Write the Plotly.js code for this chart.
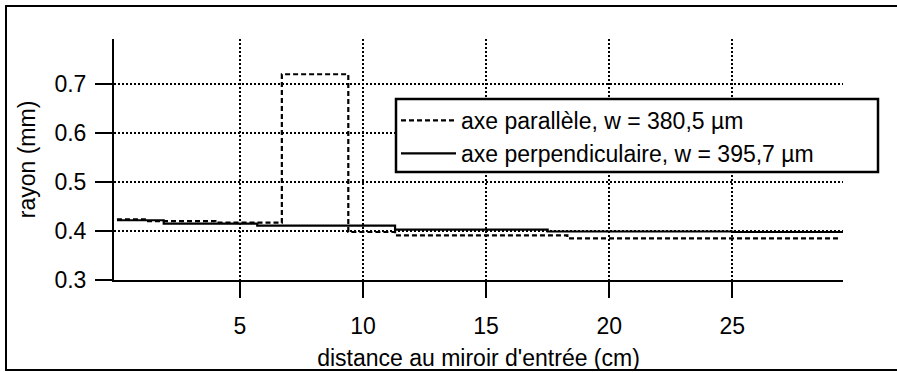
<!DOCTYPE html>
<html>
<head>
<meta charset="utf-8">
<script src="https://cdn.plot.ly/plotly-3.0.1.min.js"></script>
<style>
  html, body { margin: 0; padding: 0; background: #fff; }
  #chart { width: 897px; height: 372px; }
</style>
</head>
<body>
<div id="chart"></div>
<script>
// Step profile of beam radius vs distance from entrance mirror
const parX = [0, 1.2, 4.0, 6.7, 9.4, 11.3, 18.3, 29.3];
const parY = [0.424, 0.420, 0.417, 0.72, 0.398, 0.391, 0.385, 0.385];
const perpX = [0, 1.9, 5.7, 11.3, 17.5, 25, 29.6];
const perpY = [0.422, 0.415, 0.411, 0.403, 0.399, 0.398, 0.398];
const xTicks = [5, 10, 15, 20, 25];
const yTicks = [0.3, 0.4, 0.5, 0.6, 0.7];
const parName = 'axe parallèle, w = 380,5 µm';
const perpName = 'axe perpendiculaire, w = 395,7 µm';
const xTitle = "distance au miroir d'entrée (cm)";
const yTitle = 'rayon (mm)';

const FONT = 'Liberation Sans, Arial, Helvetica, sans-serif';
const FS = 23;

const traces = [
  {
    x: parX, y: parY, name: parName, type: 'scatter', mode: 'lines',
    line: { shape: 'hv', color: '#000', width: 2.2, dash: '5px,3px' }
  },
  {
    x: perpX, y: perpY, name: perpName, type: 'scatter', mode: 'lines',
    line: { shape: 'hv', color: '#000', width: 2.2 }
  }
];

const L = 114, R = 54, T = 39, B = 92, W = 897, H = 372;
const pw = W - L - R, ph = H - T - B;
const px = v => (v - L) / pw;
const py = v => (H - B - v) / ph;

const layout = {
  width: W, height: H,
  margin: { l: L, r: R, t: T, b: B, pad: 0 },
  paper_bgcolor: '#fff', plot_bgcolor: '#fff',
  font: { family: FONT, size: FS, color: '#000' },
  showlegend: true,
  legend: {
    x: px(396), y: py(99), xanchor: 'left', yanchor: 'top',
    bgcolor: 'rgba(0,0,0,0)', borderwidth: 0,
    font: { family: FONT, size: FS, color: '#000' },
    tracegroupgap: 0, itemwidth: 55
  },
  xaxis: {
    range: [-0.12, 29.5], tickvals: xTicks, ticks: 'outside', ticklen: 16,
    tickwidth: 2, tickcolor: '#000', showline: true, linewidth: 2, linecolor: '#000',
    showgrid: true, gridcolor: '#000', gridwidth: 2, griddash: '2px,2px',
    zeroline: false, ticklabelstandoff: 8,
    title: { text: xTitle, standoff: 12, font: { family: FONT, size: FS, color: '#000' } }
  },
  yaxis: {
    range: [0.3, 0.792], tickvals: yTicks, tickformat: '.1f', ticks: 'outside', ticklen: 17,
    tickwidth: 2, tickcolor: '#000', showline: true, linewidth: 2, linecolor: '#000',
    showgrid: true, gridcolor: '#000', gridwidth: 2, griddash: '2px,2px',
    zeroline: false, ticklabelstandoff: 4,
    title: { text: yTitle, standoff: 12, font: { family: FONT, size: FS, color: '#000' } }
  },
  shapes: [
    { type: 'rect', xref: 'paper', yref: 'paper', x0: px(396), x1: px(878), y0: py(172), y1: py(99),
      line: { color: '#000', width: 2.5 }, fillcolor: '#fff', layer: 'above' },
    { type: 'rect', xref: 'paper', yref: 'paper', x0: px(6), x1: px(900), y0: py(370), y1: py(6),
      line: { color: '#000', width: 2 }, fillcolor: 'rgba(0,0,0,0)', layer: 'above' }
  ]
};

Plotly.newPlot('chart', traces, layout, { staticPlot: true, displayModeBar: false });
</script>
</body>
</html>
